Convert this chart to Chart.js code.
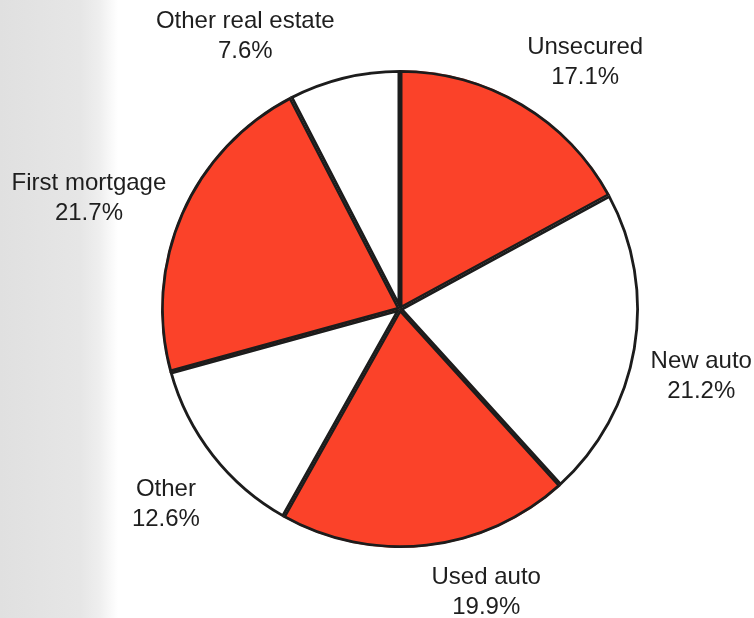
<!DOCTYPE html>
<html>
<head>
<meta charset="utf-8">
<script src="https://cdn.jsdelivr.net/npm/chart.js@4.4.1/dist/chart.umd.min.js"></script>
<style>
  html, body { margin: 0; padding: 0; }
  body {
    width: 754px; height: 618px; overflow: hidden;
    background: linear-gradient(to right, #e0e0e0 0px, #e6e6e6 80px, #efefef 100px, #ffffff 118px);
  }
  #wrap { position: relative; width: 754px; height: 618px; }
</style>
</head>
<body>
<div id="wrap"><canvas id="pieChart" width="754" height="618"></canvas></div>
<script>
  // Loan portfolio shares, clockwise from 12 o'clock
  var categories = ['Unsecured', 'New auto', 'Used auto', 'Other', 'First mortgage', 'Other real estate'];
  var shares = [17.1, 21.2, 19.9, 12.6, 21.7, 7.6];
  var sliceColors = ['#fb4229', '#ffffff', '#fb4229', '#ffffff', '#fb4229', '#ffffff'];

  // label nudges (px) from the default radial spot
  var labelNudge = [[30, 14], [2, 17], [52, -18], [5, 8], [-33, 11], [-83, 22]];

  var sliceLabels = {
    id: 'sliceLabels',
    afterDraw: function (chart) {
      var ctx = chart.ctx;
      var meta = chart.getDatasetMeta(0);
      ctx.save();
      ctx.font = '24px "Liberation Sans", Arial, sans-serif';
      ctx.fillStyle = '#1e1e1e';
      ctx.textAlign = 'center';
      ctx.textBaseline = 'middle';
      meta.data.forEach(function (arc, i) {
        var p = arc.getProps(['x', 'y', 'startAngle', 'endAngle', 'outerRadius'], true);
        var mid = (p.startAngle + p.endAngle) / 2;
        var dist = p.outerRadius * 1.27;
        var x = p.x + Math.cos(mid) * dist + labelNudge[i][0];
        var y = p.y + Math.sin(mid) * dist + labelNudge[i][1];
        ctx.fillText(categories[i], x, y - 15);
        ctx.fillText(shares[i].toFixed(1) + '%', x, y + 15);
      });
      ctx.restore();
    }
  };

  new Chart(document.getElementById('pieChart'), {
    type: 'pie',
    data: {
      labels: categories,
      datasets: [{
        data: shares,
        backgroundColor: sliceColors,
        borderColor: '#1c1c1c',
        borderWidth: 2.5,
        borderAlign: 'inner'
      }]
    },
    options: {
      responsive: false,
      animation: false,
      layout: { padding: { left: 161, right: 115, top: 70, bottom: 70 } },
      plugins: {
        legend: { display: false },
        tooltip: { enabled: false }
      }
    },
    plugins: [sliceLabels]
  });
</script>
</body>
</html>
